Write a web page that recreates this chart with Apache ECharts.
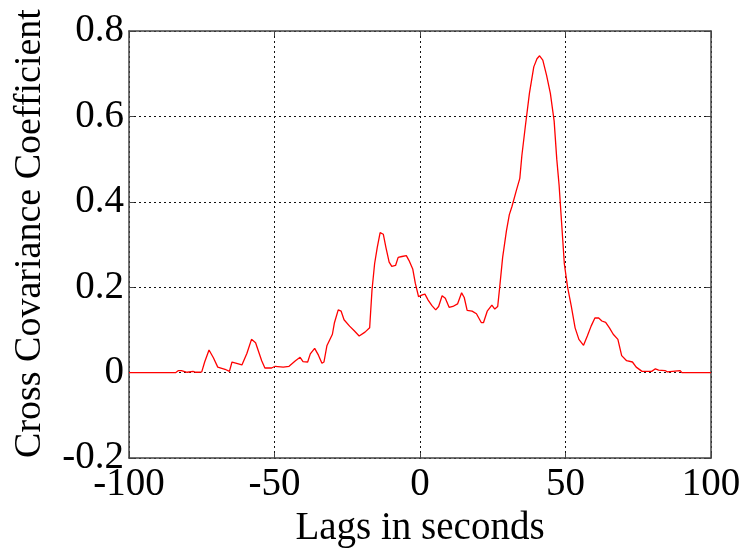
<!DOCTYPE html>
<html>
<head>
<meta charset="utf-8">
<script src="https://cdn.jsdelivr.net/npm/echarts@6/dist/echarts.min.js"></script>
<style>
html,body{margin:0;padding:0;background:#fff;}
#chart{width:744px;height:553px;}
</style>
</head>
<body>
<div id="chart"></div>
<script>
// Lags (seconds) and cross covariance coefficient values
const lags = [-100,-84,-83,-82,-80,-78,-77,-76,-75,-74,-72.5,-71,-69.5,-67,-65.5,-64.6,-63,-61.2,-59.5,-57.9,-56.5,-54.4,-53.3,-51,-49.8,-47,-45,-42.8,-41.2,-40.2,-38.6,-37.7,-36.2,-34.9,-33.7,-33,-32,-30.1,-29.4,-28.1,-27.1,-26.1,-24.2,-22.6,-20.9,-18.9,-17.3,-16.5,-15.6,-14.7,-13.7,-12.6,-11.7,-10.6,-9.7,-8.4,-7.5,-6.2,-4.7,-3.8,-2.5,-1.6,-0.5,0.8,1.7,2.8,4.1,5.4,6.4,7.6,8.7,10,11.3,12.9,14.3,15.2,16.2,17.9,19.4,21.1,21.8,23.1,24.7,25.7,26.7,27.4,28.4,29.7,30.7,31.6,33,34.3,35,36.2,37.6,39.1,40.2,41.1,42.2,43.5,44.8,46.1,47,47.8,48.7,49.6,50.7,52,53.3,54.6,56.2,57.5,58.8,60.1,61.4,62.5,63.8,65.1,66.4,68,69.3,71,73,74.3,76.3,79.6,80.9,82,84.2,85,89.4,90,100];
const coeffs = [0,0,0.005,0.005,0.001,0.003,0.001,0.001,0.002,0.025,0.053,0.035,0.013,0.008,0.003,0.025,0.022,0.018,0.045,0.078,0.07,0.028,0.011,0.011,0.015,0.013,0.015,0.028,0.036,0.026,0.025,0.044,0.057,0.041,0.022,0.025,0.063,0.09,0.117,0.147,0.144,0.124,0.109,0.098,0.086,0.095,0.105,0.193,0.255,0.293,0.328,0.324,0.293,0.259,0.249,0.251,0.27,0.272,0.274,0.263,0.243,0.209,0.178,0.182,0.184,0.17,0.157,0.147,0.155,0.18,0.174,0.153,0.155,0.161,0.187,0.176,0.146,0.144,0.138,0.117,0.117,0.144,0.158,0.149,0.155,0.201,0.27,0.332,0.37,0.389,0.424,0.455,0.508,0.577,0.654,0.716,0.735,0.742,0.732,0.696,0.654,0.589,0.5,0.439,0.347,0.255,0.201,0.155,0.105,0.078,0.064,0.086,0.109,0.128,0.128,0.121,0.118,0.105,0.09,0.078,0.04,0.028,0.025,0.013,0.003,0.003,0.009,0.006,0.005,0.002,0.005,0,0];
const xTicks = [-100,-50,0,50,100];
const yTicks = [-0.2,0,0.2,0.4,0.6,0.8];
const xTitle = 'Lags in seconds';
const yTitle = 'Cross Covariance Coefficient';

const seriesData = lags.map((l, i) => [l, coeffs[i]]);
const font = '"Liberation Serif","Times New Roman",serif';
const fs = 39;
const frameColor = '#444';
const gridLine = {show: true, lineStyle: {color: '#111', width: 1, type: [2, 3]}};

const chart = echarts.init(document.getElementById('chart'), null, {renderer: 'canvas'});
chart.setOption({
  animation: false,
  backgroundColor: '#fff',
  grid: {left: 129, right: 33, top: 31, bottom: 89, containLabel: false},
  xAxis: [{
    type: 'value', position: 'bottom',
    min: xTicks[0], max: xTicks[xTicks.length - 1], interval: 50,
    name: xTitle, nameLocation: 'middle', nameGap: 47,
    nameTextStyle: {fontFamily: font, fontSize: fs, color: '#000'},
    axisLine: {show: true, onZero: false, lineStyle: {color: frameColor, width: 1.5}},
    axisTick: {show: true, inside: true, length: 5, lineStyle: {color: frameColor}},
    axisLabel: {fontFamily: font, fontSize: fs, color: '#000', margin: 7,
      formatter: v => String(v)},
    splitLine: gridLine
  }, {
    type: 'value', position: 'top',
    min: xTicks[0], max: xTicks[xTicks.length - 1], interval: 50,
    axisLine: {show: true, onZero: false, lineStyle: {color: frameColor, width: 1.5}},
    axisTick: {show: true, inside: true, length: 5, lineStyle: {color: frameColor}},
    axisLabel: {show: false}, splitLine: {show: false}
  }],
  yAxis: [{
    type: 'value', position: 'left',
    min: yTicks[0], max: yTicks[yTicks.length - 1], interval: 0.2,
    name: yTitle, nameLocation: 'middle', nameGap: 80, nameRotate: 90,
    nameTextStyle: {fontFamily: font, fontSize: 38, color: '#000', padding: [0, 0, 0, 22]},
    axisLine: {show: true, onZero: false, lineStyle: {color: frameColor, width: 1.5}},
    axisTick: {show: true, inside: true, length: 5, lineStyle: {color: frameColor}},
    axisLabel: {fontFamily: font, fontSize: fs, color: '#000', margin: 5,
      formatter: v => (Math.abs(v) < 1e-9 ? '0' : v.toFixed(1))},
    splitLine: gridLine
  }, {
    type: 'value', position: 'right',
    min: yTicks[0], max: yTicks[yTicks.length - 1], interval: 0.2,
    axisLine: {show: true, onZero: false, lineStyle: {color: frameColor, width: 1.5}},
    axisTick: {show: true, inside: true, length: 5, lineStyle: {color: frameColor}},
    axisLabel: {show: false}, splitLine: {show: false}
  }],
  series: [{
    type: 'line',
    xAxisIndex: 0, yAxisIndex: 0,
    data: seriesData,
    showSymbol: false,
    symbol: 'none',
    lineStyle: {color: '#ff0000', width: 1.3},
    z: 5
  }]
});
</script>
</body>
</html>
